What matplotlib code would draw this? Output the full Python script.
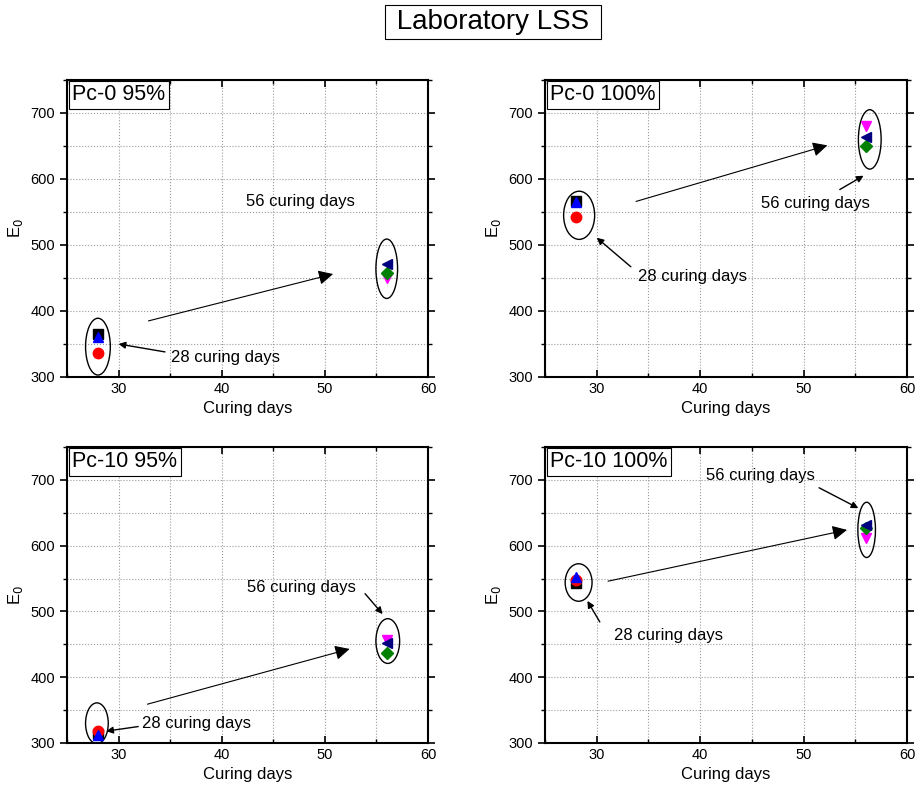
import matplotlib
matplotlib.use("Agg")
import matplotlib.pyplot as plt
from matplotlib.patches import Ellipse
from matplotlib.ticker import MultipleLocator

plt.rcParams['font.family'] = ['Liberation Sans', 'DejaVu Sans']

# Panel names and curing ages
panel_names = ["Pc-0 95%", "Pc-0 100%", "Pc-10 95%", "Pc-10 100%"]
day_early = 28
day_late = 56

# E0 values per panel at 28 curing days
e0_square_28 = [365, 567, 313, 543]
e0_circle_28 = [337, 543, 318, 548]
e0_tri_up_28 = [360, 565, 312, 553]

# E0 values per panel at 56 curing days
e0_tri_down_56 = [450, 681, 457, 611]
e0_diamond_56 = [458, 650, 437, 627]
e0_tri_left_56 = [471, 663, 452, 632]

fig = plt.figure(figsize=(9.16, 7.94), dpi=100)

W, H = 916, 794
def px_axes(left, right, top, bottom):
    return [left / W, (H - bottom) / H, (right - left) / W, (bottom - top) / H]

axes_px = [
    (67, 428, 80, 377),
    (545, 907, 80, 377),
    (67, 428, 447, 743),
    (545, 907, 447, 743),
]

# Per-panel decoration: ellipses (cx, cy, w, h), trend arrow, and labels
ellipses = [
    [(28.0, 346, 2.4, 86), (56.0, 464, 2.1, 90)],
    [(28.3, 545, 3.0, 73), (56.4, 660, 2.2, 90)],
    [(27.9, 330, 2.2, 62), (56.1, 455, 2.3, 68)],
    [(28.25, 544, 2.6, 57), (56.1, 624, 1.7, 84)],
]
trend = [
    ((32.9, 385), (50.8, 456)),
    ((33.8, 566), (52.3, 651)),
    ((32.8, 359), (52.4, 443)),
    ((31.1, 546), (54.2, 624)),
]
label_28 = [
    ((35.1, 330), (34.5, 338), (30.0, 350)),
    ((34.0, 452), (33.3, 467), (30.0, 511)),
    ((32.3, 329), (31.9, 325), (28.8, 318)),
    ((31.7, 463), (30.3, 484), (29.1, 516)),
]
label_56 = [
    ((42.4, 566), None, None),
    ((45.9, 563), (53.5, 584), (55.8, 605)),
    ((42.5, 536), (53.9, 527), (55.6, 496)),
    ((40.6, 706), (51.5, 688), (55.3, 657)),
]

for i, name in enumerate(panel_names):
    ax = fig.add_axes(px_axes(*axes_px[i]))
    ax.set_xlim(25, 60)
    ax.set_ylim(300, 750)
    ax.xaxis.set_major_locator(MultipleLocator(10))
    ax.xaxis.set_minor_locator(MultipleLocator(5))
    ax.yaxis.set_major_locator(MultipleLocator(100))
    ax.yaxis.set_minor_locator(MultipleLocator(50))
    ax.set_yticks([300, 400, 500, 600, 700])
    ax.grid(True, which='both', color='#9a9a9a', linestyle=':', linewidth=0.8)
    ax.set_axisbelow(True)
    ax.tick_params(axis='x', which='both', direction='in', top=True, bottom=True, labelsize=10.5)
    ax.tick_params(axis='y', which='both', direction='out', left=True, right=True, labelsize=10.5)
    ax.tick_params(which='major', length=5, width=1.2)
    ax.tick_params(which='minor', length=3, width=1)
    for sp in ax.spines.values():
        sp.set_linewidth(1.5)
    ax.set_xlabel("Curing days", fontsize=12)
    ax.set_ylabel("E$_0$", fontsize=12)

    ms = 7.5
    ax.plot(day_early, e0_square_28[i], 's', color='black', ms=ms, zorder=5)
    ax.plot(day_early, e0_circle_28[i], 'o', color='red', ms=ms, zorder=5)
    ax.plot(day_early, e0_tri_up_28[i], '^', color='blue', ms=ms, zorder=5)
    ax.plot(day_late, e0_tri_down_56[i], 'v', color='magenta', ms=ms, zorder=5)
    ax.plot(day_late, e0_diamond_56[i], 'D', color='green', ms=ms - 1, zorder=5)
    ax.plot(day_late, e0_tri_left_56[i], '<', color='navy', ms=ms, zorder=5)

    for (cx, cy, w, h) in ellipses[i]:
        ax.add_patch(Ellipse((cx, cy), w, h, fill=False, ec='black', lw=1.0, zorder=4))

    (sx, sy), (ex, ey) = trend[i]
    ax.annotate("", xy=(ex, ey), xytext=(sx, sy),
                arrowprops=dict(arrowstyle='-|>', color='black', lw=0.8,
                                mutation_scale=22, shrinkA=0, shrinkB=0))

    for lab, txt in ((label_28[i], "28 curing days"), (label_56[i], "56 curing days")):
        (tx, ty), start, end = lab
        ax.text(tx, ty, txt, fontsize=12, va='center', ha='left', zorder=6)
        if start is not None:
            ax.annotate("", xy=end, xytext=start,
                        arrowprops=dict(arrowstyle='-|>', color='black', lw=1.0,
                                        mutation_scale=10, shrinkA=0, shrinkB=0))

    ax.text(0.015, 0.985, name, transform=ax.transAxes, fontsize=15.5,
            va='top', ha='left', zorder=7,
            bbox=dict(boxstyle='square,pad=0.15', fc='white', ec='black', lw=0.8))

fig.text(0.538, 0.972, " Laboratory LSS ", fontsize=20, ha='center', va='center',
         bbox=dict(boxstyle='square,pad=0.15', fc='white', ec='black', lw=0.8))

fig.savefig("out.png", dpi=100)
